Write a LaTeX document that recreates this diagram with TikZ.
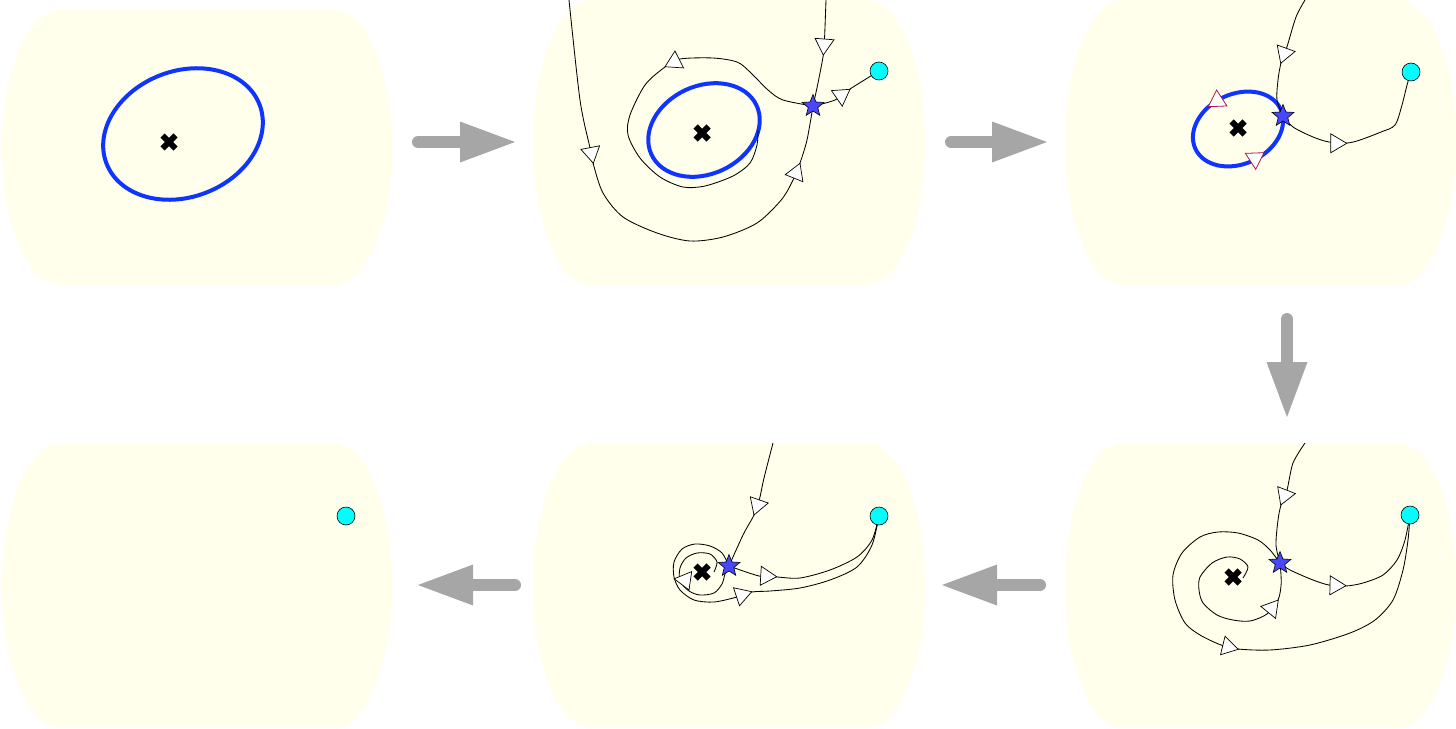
\documentclass[tikz,border=0pt]{standalone}
\usetikzlibrary{arrows.meta,shapes.geometric,calc}
\definecolor{panelcol}{RGB}{255,255,235}
\definecolor{ellblue}{RGB}{16,52,255}
\definecolor{starblue}{RGB}{72,72,250}
\definecolor{dotcyan}{RGB}{0,255,255}
\definecolor{garrowcol}{RGB}{166,166,166}
\definecolor{crim}{RGB}{170,20,80}
\pgfdeclarelayer{panels}\pgfdeclarelayer{curves}
\pgfsetlayers{panels,curves,main}
\newcommand\barrelpanel[4]{%
  \fill[panelcol] ({#1+58},#2) -- ({#3-58},#2)
    arc[start angle=-90,end angle=90,x radius=58,y radius={(#4-#2)/2}]
    -- ({#1+58},#4)
    arc[start angle=90,end angle=270,x radius=58,y radius={(#4-#2)/2}] -- cycle;}
% arrowhead: #2 = a point behind the tip on the curve, #3 = tip
\newcommand\flowhead[3][headtri]{%
  \path let \p1=($(#3)-(#2)$) in (#3) pic[rotate={atan2(\y1,\x1)}] {#1};}
\tikzset{
  flow/.style={line width=0.85pt, black},
  ell/.style={draw=ellblue, line width=4pt},
  saddle/.style={star, star points=5, star point ratio=2.3, minimum size=23pt, inner sep=0pt,
    fill=starblue, draw=black, line width=0.6pt},
  cyandot/.style={circle, minimum size=18pt, inner sep=0pt, fill=dotcyan, draw=black, line width=0.6pt},
  garrow/.style={draw=garrowcol, line width=12pt, line cap=round,
    -{Triangle[length=55pt,width=41pt,line width=0pt]}},
  xmark/.pic={\draw[line width=6pt, black] (-6.5,-6.5) -- (6.5,6.5) (-6.5,6.5) -- (6.5,-6.5);},
  headtri/.pic={\draw[black, fill=white, line width=0.7pt] (0,0) -- (-16,9.5) -- (-16,-9.5) -- cycle;},
  redtri/.pic={\draw[crim, fill=white, line width=0.8pt] (0,0) -- (-16,9.5) -- (-16,-9.5) -- cycle;}
}
\begin{document}
\begin{tikzpicture}[x=1pt,y=-1pt]
\useasboundingbox (0,0) rectangle (1456,728);
\begin{pgfonlayer}{panels}
  \barrelpanel{2}{10}{392}{285}
  \barrelpanel{533}{0}{925}{285}
  \barrelpanel{1065}{0}{1456}{285}
  \barrelpanel{1065}{443}{1456}{728}
  \barrelpanel{533}{443}{925}{728}
  \barrelpanel{2}{443}{392}{728}
\end{pgfonlayer}

% gray arrows between panels
\coordinate (g1s) at (418,142); \coordinate (g1e) at (515,142);
\coordinate (g2s) at (951,142); \coordinate (g2e) at (1047,142);
\coordinate (g3s) at (1287,319); \coordinate (g3e) at (1287,417);
\coordinate (g4s) at (1040,585); \coordinate (g4e) at (942,585);
\coordinate (g5s) at (515,585); \coordinate (g5e) at (418,585);
\draw[garrow] (g1s) -- (g1e);
\draw[garrow] (g2s) -- (g2e);
\draw[garrow] (g3s) -- (g3e);
\draw[garrow] (g4s) -- (g4e);
\draw[garrow] (g5s) -- (g5e);

% ---------- panel 1
\begin{pgfonlayer}{curves}
  \draw[ell, rotate around={21:(183,134)}] (183,134) ellipse [x radius=82, y radius=63];
\end{pgfonlayer}
\pic (x1) at (169,142) {xmark};

% ---------- panel 2
\node[saddle] (s2) at (813,106) {};
\node[cyandot] (c2) at (879,71) {};
\pic (x2) at (702,133) {xmark};
\coordinate (t2a) at (569,0);
\coordinate (t2b) at (826,0);
\coordinate (e2) at (758,130);
\begin{pgfonlayer}{curves}
  \draw[ell, rotate around={25:(704,130)}] (704,130) ellipse [x radius=58, y radius=44];
  \draw[flow] plot[smooth] coordinates {(t2a) (580,100) (590,148) (593,163) (603,193) (623,217) (657,233) (690,241) (723,237) (757,223) (782,199) (794,178) (800,163) (807,140) (s2.center)};
  \draw[flow] plot[smooth] coordinates {(t2b) (824.5,39) (823.3,55) (818,83) (s2.center)};
  \draw[flow] plot[smooth] coordinates {(s2.center) (835,100) (850,89) (c2.center)};
  \draw[flow] plot[smooth] coordinates {(s2.center) (783,100) (768,90) (750,72) (737,62) (713,58) (680,59) (665,67) (645,85) (630,115) (628,135) (640,158) (660,177) (683,187) (705,186) (733,176) (750,163) (757,145) (e2)};
\end{pgfonlayer}
\flowhead{590.3,147.8}{593.3,163.3}
\flowhead{794.2,177.8}{800,163.3}
\flowhead{824.5,39.2}{823.3,55}
\flowhead{835,99.7}{850,89.3}
\flowhead{679.8,59.2}{665,66.7}

% ---------- panel 3
\node[saddle] (s3) at (1283,116) {};
\node[cyandot] (c3) at (1411,72) {};
\pic (x3) at (1238,128) {xmark};
\coordinate (t3) at (1305,0);
\begin{pgfonlayer}{curves}
  \draw[ell, rotate around={25:(1238,129)}] (1238,129) ellipse [x radius=47, y radius=35];
  \draw[flow] plot[smooth] coordinates {(t3) (1296,17) (1287,46.7) (1281,63) (1278,80) (1277,100) (s3.center)};
  \draw[flow] plot[smooth] coordinates {(s3.center) (1293,127) (1313,137) (1329,142) (1347,143) (1360,140) (1381,132) (1395,125) (1402,105) (1407,85) (c3.center)};
\end{pgfonlayer}
\flowhead{1286.7,46.7}{1280.7,63.3}
\flowhead{1329.3,143.3}{1346.7,143.3}
\flowhead[redtri]{1222.8,97.3}{1208.3,106.7}
\flowhead[redtri]{1250,161.7}{1264,152.7}

% ---------- panel 4
\node[saddle] (s4) at (1280,563) {};
\node[cyandot] (c4) at (1410,515) {};
\pic (x4) at (1233,577) {xmark};
\coordinate (t4) at (1305,443);
\coordinate (i4) at (1243,578);
\begin{pgfonlayer}{curves}
  \draw[flow] plot[smooth] coordinates {(t4) (1293,463) (1287,490) (1281,505) (1278,520) (1276,545) (s4.center)};
  \draw[flow] plot[smooth] coordinates {(s4.center) (1290,570) (1313,580) (1329,585) (1346,586) (1363,583) (1383,575) (1397,560) (1405,540) (c4.center)};
  \draw[flow] plot[smooth] coordinates {(s4.center) (1270,550) (1258,540) (1238,533) (1218,532) (1200,537) (1182,553) (1173,575) (1175,600) (1185,623) (1200,635) (1221,645) (1238,649) (1270,650) (1310,645) (1350,633) (1375,620) (1393,600) (1403,570) (1408,540) (c4.center)};
  \draw[flow] plot[smooth] coordinates {(i4) (1248,567) (1240,559) (1227,557) (1212,563) (1200,577) (1199,590) (1203,603) (1217,615) (1233,620) (1250,621) (1267,614) (1278,600) (1281,586) (1281,575) (s4.center)};
\end{pgfonlayer}
\flowhead{1286.7,489.7}{1280.7,505}
\flowhead{1329.3,585.3}{1346,585.7}
\flowhead{1220.8,645}{1238.3,649.3}
\flowhead{1266.7,614.2}{1278.3,600}

% ---------- panel 5
\node[saddle] (s5) at (729,566) {};
\node[cyandot] (c5) at (879,516) {};
\pic (x5) at (702,572) {xmark};
\coordinate (t5) at (773,443);
\coordinate (i5) at (714,572);
\begin{pgfonlayer}{curves}
  \draw[flow] plot[smooth] coordinates {(t5) (764,478) (759.5,499) (754,515) (743,535) (s5.center)};
  \draw[flow] plot[smooth] coordinates {(s5.center) (759,576) (777,577) (800,578) (830,570) (857,557) (872,540) (c5.center)};
  \draw[flow] plot[smooth] coordinates {(s5.center) (722,553) (710,546) (695,544) (682,549) (674,562) (674,577) (680,590) (694,600) (714,602) (737,597) (752,592) (770,591) (800,588) (830,580) (857,567) (872,545) (c5.center)};
  \draw[flow] plot[smooth] coordinates {(i5) (717,562) (710,554) (697,553) (686,558) (680,568) (680,581) (689,591) (700,595) (714,593) (722,584) (725,574) (s5.center)};
\end{pgfonlayer}
\flowhead{759.5,499.2}{754,515}
\flowhead{759.2,575.7}{776.7,576.7}
\flowhead{736.7,596.7}{751.7,591.7}
\flowhead{682.9,575.2}{689,590}

% ---------- panel 6
\node[cyandot] (c6) at (346,516) {};
\end{tikzpicture}
\end{document}
